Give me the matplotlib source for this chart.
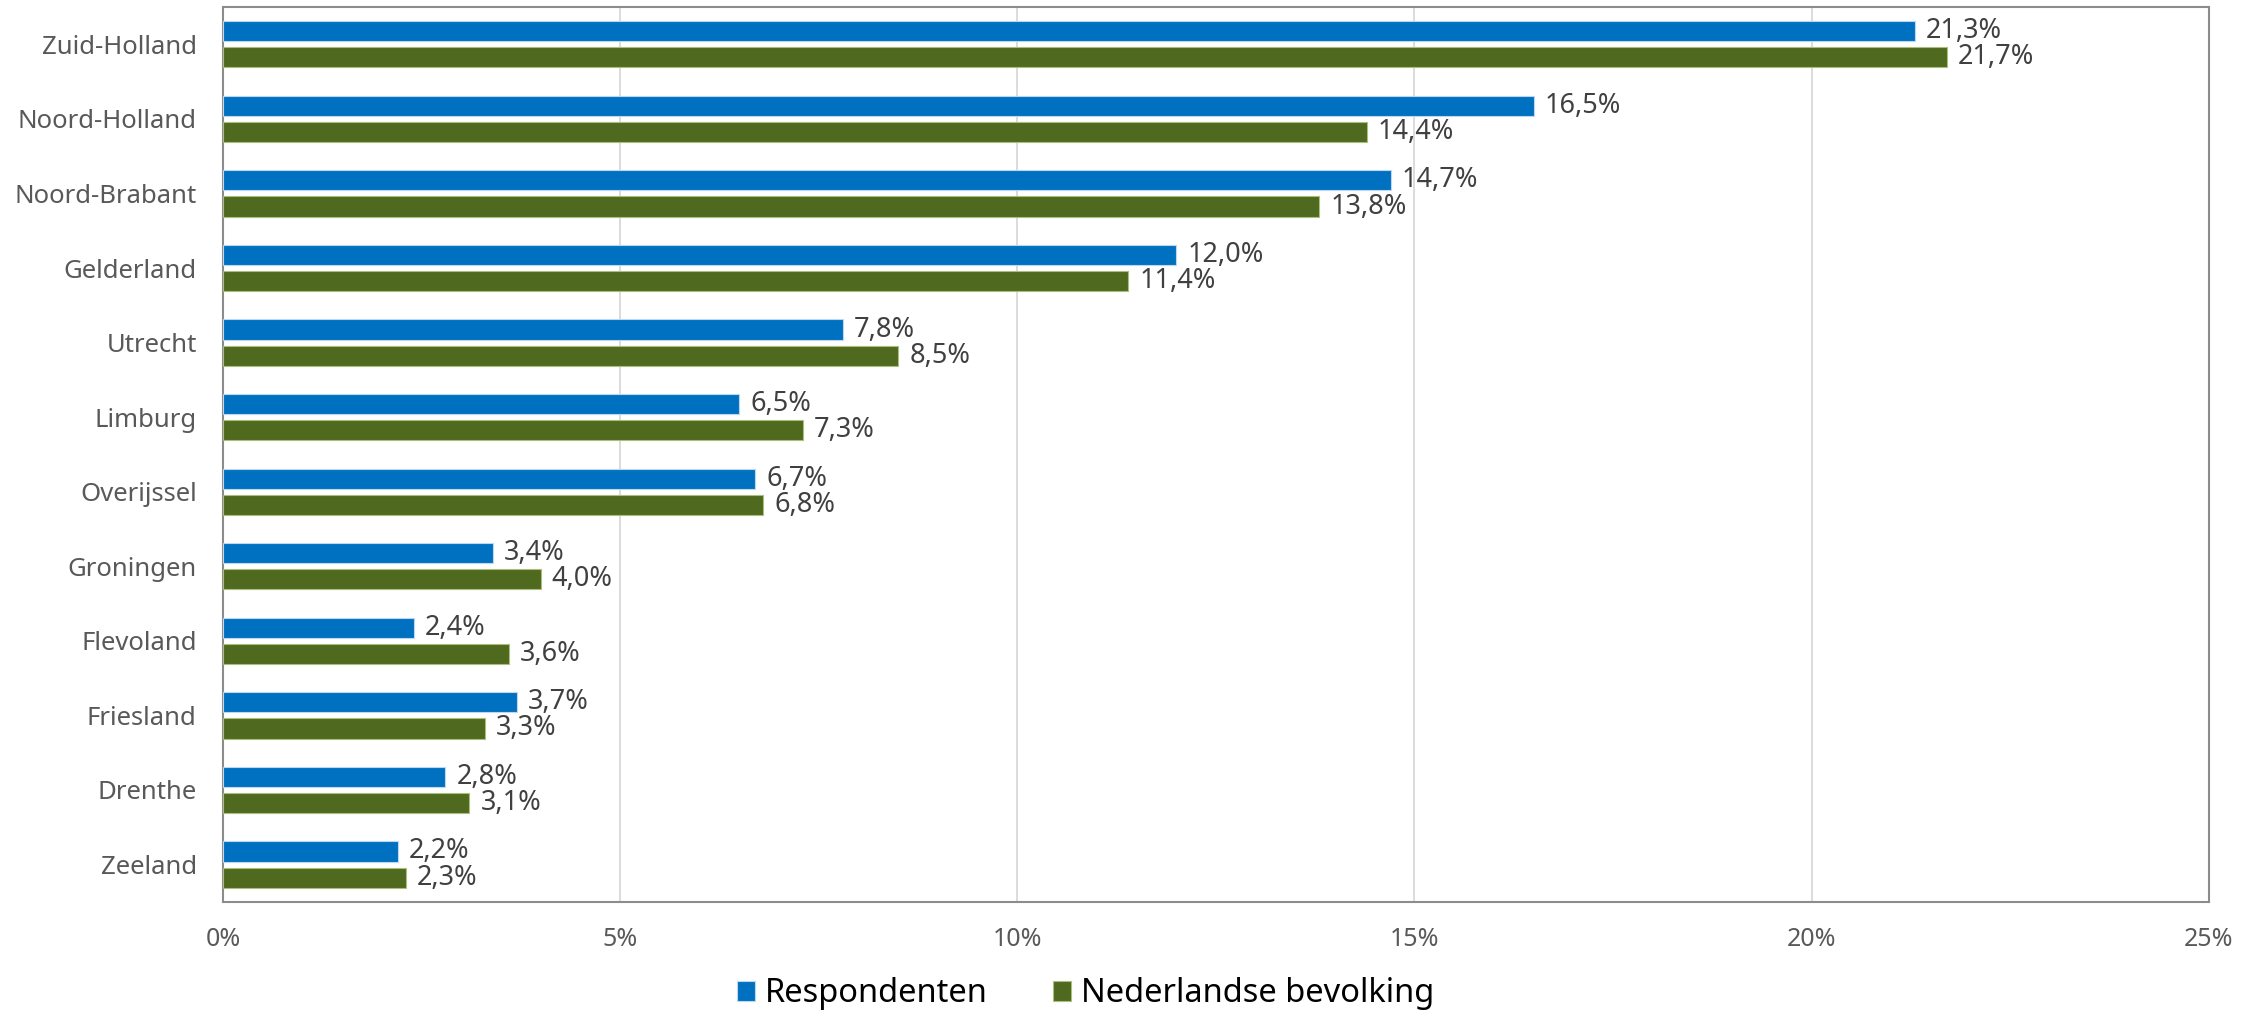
import numpy as np
import matplotlib
matplotlib.use("Agg")
import matplotlib.pyplot as plt
from matplotlib.ticker import FuncFormatter

plt.rcParams["font.family"] = ["Noto Sans", "DejaVu Sans"]

provinces = ["Zuid-Holland", "Noord-Holland", "Noord-Brabant", "Gelderland", "Utrecht",
             "Limburg", "Overijssel", "Groningen", "Flevoland", "Friesland", "Drenthe", "Zeeland"]
respondenten = [21.3, 16.5, 14.7, 12.0, 7.8, 6.5, 6.7, 3.4, 2.4, 3.7, 2.8, 2.2]
bevolking = [21.7, 14.4, 13.8, 11.4, 8.5, 7.3, 6.8, 4.0, 3.6, 3.3, 3.1, 2.3]
series_names = ["Respondenten", "Nederlandse bevolking"]

blue = "#0070C0"
green = "#4F6A1E"

fig = plt.figure(figsize=(22.62, 10.11), dpi=100, facecolor="white")
ax = fig.add_axes([0.0986, 0.108, 0.8778, 0.885])

y = np.arange(len(provinces))
off = 0.175
h = 0.27
b1 = ax.barh(y - off, respondenten, height=h, color=blue, edgecolor="#BDD7EE", linewidth=0.8,
             label=series_names[0], zorder=3)
b2 = ax.barh(y + off, bevolking, height=h, color=green, edgecolor="#A9BE7F", linewidth=0.8,
             label=series_names[1], zorder=3)

def fmt(v):
    return ("%.1f%%" % v).replace(".", ",")

for bars, vals in ((b1, respondenten), (b2, bevolking)):
    for rect, v in zip(bars, vals):
        ax.annotate(fmt(v), (v, rect.get_y() + rect.get_height() / 2),
                    xytext=(8, 0), textcoords="offset points",
                    ha="left", va="center", fontsize=19.5, color="#404040")

ax.set_ylim(len(provinces) - 0.5, -0.5)
ax.set_xlim(0, 25)
ax.set_xticks([0, 5, 10, 15, 20, 25])
ax.xaxis.set_major_formatter(FuncFormatter(lambda v, p: "%d%%" % v))
ax.set_yticks(y)
ax.set_yticklabels(provinces)
ax.tick_params(axis="y", length=0, pad=19, labelsize=18.5, labelcolor="#595959")
ax.tick_params(axis="x", length=0, pad=18, labelsize=18, labelcolor="#595959")
ax.grid(axis="x", color="#D9D9D9", linewidth=1.3, zorder=0)
for s in ax.spines.values():
    s.set_color("#8C8C8C")
    s.set_linewidth(1.5)

fig.legend(handles=[b1, b2], labels=series_names, loc="center", bbox_to_anchor=(0.48, 0.017),
           ncol=2, frameon=False, fontsize=23.5, handlelength=0.55, handleheight=0.55,
           handletextpad=0.3, columnspacing=2.0)

fig.savefig("out.png", dpi=100, facecolor="white")
